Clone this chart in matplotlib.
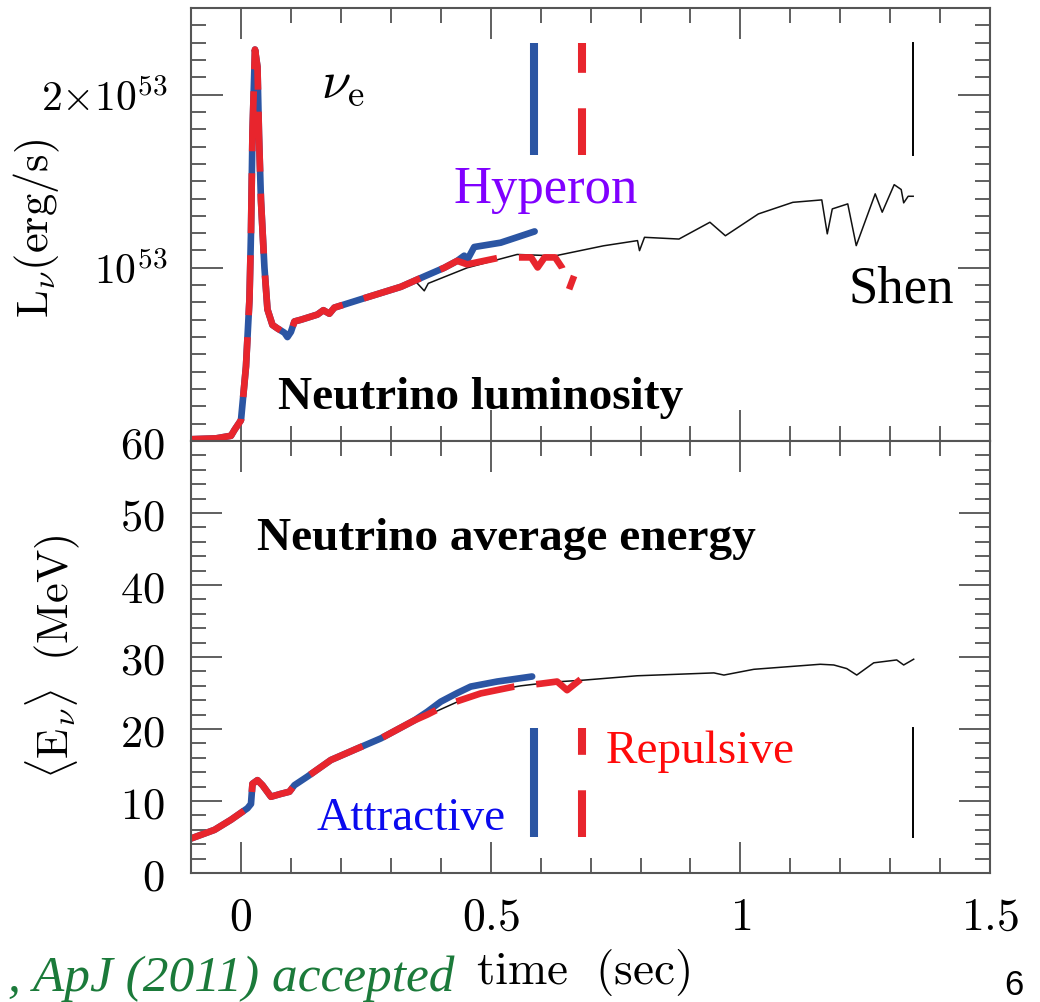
import matplotlib
matplotlib.use("Agg")
import matplotlib.pyplot as plt
from matplotlib.ticker import MultipleLocator

plt.rcParams["mathtext.fontset"] = "cm"

# ---- data ----
# luminosity in units of 10^53 erg/s, time in sec
t_lum_early = [-0.1, -0.05, -0.02, -0.013, 0.0, 0.01, 0.017, 0.02, 0.023, 0.028, 0.033,
               0.036, 0.04, 0.047, 0.053, 0.063, 0.073, 0.087, 0.093, 0.1, 0.107, 0.12,
               0.153, 0.165, 0.177, 0.187, 0.253, 0.32, 0.367, 0.407, 0.433]
lum_early = [0.01, 0.015, 0.03, 0.064, 0.12, 0.43, 0.82, 1.2, 1.78, 2.26, 2.16,
             1.77, 1.39, 1.0, 0.76, 0.67, 0.65, 0.625, 0.60, 0.63, 0.69, 0.70,
             0.73, 0.755, 0.735, 0.77, 0.83, 0.89, 0.95, 1.0, 1.04]

t_lum_att = [0.447, 0.453, 0.467, 0.52, 0.588]
lum_att = [1.07, 1.045, 1.12, 1.145, 1.21]

t_lum_rep = [0.453, 0.52, 0.525, 0.581, 0.594, 0.608, 0.629, 0.643, 0.657, 0.667]
lum_rep = [1.02, 1.06, 1.06, 1.06, 1.002, 1.06, 1.06, 1.0, 0.876, 0.953]

t_lum_shen = [0.35, 0.367, 0.375, 0.453, 0.553, 0.629, 0.726, 0.794, 0.798, 0.808,
              0.877, 0.939, 0.970, 1.036, 1.105, 1.163, 1.174, 1.184, 1.215, 1.232,
              1.27, 1.284, 1.308, 1.322, 1.327, 1.336, 1.346]
lum_shen = [0.92, 0.867, 0.91, 1.0, 1.077, 1.069, 1.127, 1.157, 1.099, 1.176,
            1.166, 1.263, 1.185, 1.311, 1.378, 1.392, 1.196, 1.34, 1.369, 1.128,
            1.427, 1.321, 1.48, 1.452, 1.375, 1.413, 1.413]

# average energy in MeV
t_en_early = [-0.1, -0.053, -0.02, 0.013, 0.02, 0.023, 0.033, 0.043, 0.06, 0.08,
              0.097, 0.107, 0.133, 0.18, 0.233, 0.28, 0.347]
en_early = [4.8, 6.0, 7.4, 9.0, 9.6, 12.4, 12.9, 12.2, 10.6, 11.0,
            11.3, 12.2, 13.4, 15.7, 17.3, 18.7, 21.2]

t_en_att = [0.373, 0.4, 0.433, 0.46, 0.513, 0.583]
en_att = [22.4, 23.8, 25.0, 25.9, 26.6, 27.3]

t_en_rep = [0.373, 0.413, 0.48, 0.547, 0.6, 0.633, 0.653, 0.68]
en_rep = [22.0, 23.4, 24.95, 25.9, 26.3, 26.6, 25.4, 26.9]

t_en_shen = [0.373, 0.447, 0.5, 0.56, 0.62, 0.687, 0.793, 0.947, 0.967, 1.027,
             1.16, 1.187, 1.213, 1.233, 1.267, 1.313, 1.327, 1.347]
en_shen = [21.9, 24.2, 25.3, 26.0, 26.5, 26.8, 27.4, 27.8, 27.5, 28.3,
           29.0, 28.9, 28.4, 27.5, 29.2, 29.6, 28.9, 29.7]

# black hole formation times (attractive, repulsive, Shen)
t_end = [0.586, 0.683, 1.346]
lum_mark = [1.65, 2.30]
en_mark = [5.0, 20.1]

x_ticks = [0, 0.5, 1, 1.5]
x_labels = ["0", "0.5", "1", "1.5"]
lum_ticks = [1, 2]
lum_labels = [r"$10^{53}$", r"$2{\times}10^{53}$"]
en_ticks = [0, 10, 20, 30, 40, 50, 60]

BLUE = "#2B55A3"
RED = "#E8252D"


def style_axes(ax):
    for s in ax.spines.values():
        s.set_color("#555555")
        s.set_linewidth(1.5)
    ax.tick_params(which="both", direction="in", top=True, right=True,
                   color="#444444", width=1.2)
    ax.tick_params(which="major", length=22)
    ax.tick_params(which="minor", length=11)
    ax.set_xlim(-0.1, 1.5)
    ax.xaxis.set_minor_locator(MultipleLocator(0.1))
    ax.set_xticks(x_ticks)


fig = plt.figure(figsize=(10.4, 10.02), dpi=100)
ax1 = fig.add_axes([0.1837, 0.5599, 0.7683, 0.4321])
ax2 = fig.add_axes([0.1837, 0.1287, 0.7683, 0.4311])

dash = (0, (9, 3.3))

# ---- top: luminosity ----
ax1.plot(t_lum_shen, lum_shen, color="#111111", lw=1.1)
ax1.plot(t_lum_early + t_lum_att, lum_early + lum_att, color=BLUE, lw=4.8,
         solid_capstyle="round")
ax1.plot(t_lum_early + t_lum_rep, lum_early + lum_rep, color=RED, lw=4.8,
         linestyle=dash)
ax1.plot([t_end[0]] * 2, lum_mark, color=BLUE, lw=5.8, solid_capstyle="butt")
ax1.plot([t_end[1]] * 2, lum_mark, color=RED, lw=5.8, linestyle=(0, (5.8, 4.4)))
ax1.plot([t_end[2]] * 2, lum_mark, color="black", lw=1.4)

style_axes(ax1)
ax1.set_ylim(0, 2.5)
ax1.set_yticks(lum_ticks)
ax1.set_yticklabels(lum_labels)
ax1.yaxis.set_minor_locator(MultipleLocator(0.1))
ax1.tick_params(axis="y", which="major", length=23, labelsize=30, pad=17)
ax1.tick_params(axis="x", labelbottom=False)
ax1.set_ylabel(r"$\mathrm{L}_\nu\mathrm{(erg/s)}$", fontsize=32, va="center")
ax1.yaxis.set_label_coords(-0.193, 0.49)

serif = "Liberation Serif"
ax1.text(0.16, 1.98, r"$\nu_{\mathrm{e}}$", fontsize=38, ha="left", va="baseline")
ax1.text(0.61, 1.376, "Hyperon", fontsize=38, color="#8000FF", family=serif,
         ha="center", va="baseline")
ax1.text(1.322, 0.797, "Shen", fontsize=38, color="black", family=serif,
         ha="center", va="baseline")
ax1.text(0.48, 0.184, "Neutrino luminosity", fontsize=34, fontweight="bold",
         family=serif, ha="center", va="baseline")

# ---- bottom: average energy ----
ax2.plot(t_en_shen, en_shen, color="#111111", lw=1.1)
ax2.plot(t_en_early + t_en_att, en_early + en_att, color=BLUE, lw=4.8,
         solid_capstyle="round")
ax2.plot(t_en_early + t_en_rep, en_early + en_rep, color=RED, lw=4.8,
         linestyle=dash)
ax2.plot([t_end[0]] * 2, en_mark, color=BLUE, lw=5.8, solid_capstyle="butt")
ax2.plot([t_end[1]] * 2, en_mark, color=RED, lw=5.8, linestyle=(0, (5.8, 4.4)))
ax2.plot([t_end[2]] * 2, en_mark, color="black", lw=1.4)

style_axes(ax2)
ax2.set_ylim(0, 60)
ax2.set_yticks(en_ticks)
ax2.yaxis.set_minor_locator(MultipleLocator(2))
ax2.set_yticklabels([r"$%d$" % v for v in en_ticks])
ax2.set_xticklabels([r"$%s$" % s for s in x_labels])
ax2.tick_params(axis="y", labelsize=32, pad=19)
ax2.tick_params(axis="x", labelsize=33, pad=16)
ax2.set_ylabel(r"$\langle\mathrm{E}_\nu\rangle\ \ \mathrm{(MeV)}$", fontsize=32,
               va="center")
ax2.yaxis.set_label_coords(-0.173, 0.50)
ax2.set_xlabel(r"$\mathrm{time\ \ (sec)}$", fontsize=34)
ax2.xaxis.set_label_coords(0.49, -0.172)

ax2.text(0.532, 44.9, "Neutrino average energy", fontsize=34, fontweight="bold",
         family=serif, ha="center", va="baseline")
ax2.text(0.34, 6.0, "Attractive", fontsize=34, color="#0A0AEE", family=serif,
         ha="center", va="baseline")
ax2.text(0.92, 15.3, "Repulsive", fontsize=34, color="#FF0A0A", family=serif,
         ha="center", va="baseline")

# footer
fig.text(455 / 1040, 0.011, ", ApJ (2011) accepted", fontsize=37, color="#1B7A3A",
         family=serif, style="italic", ha="right", va="baseline")
fig.text(1014 / 1040, 0.007, "6", fontsize=25, family="Liberation Sans",
         ha="center", va="baseline")

fig.savefig("out.png", dpi=100)
